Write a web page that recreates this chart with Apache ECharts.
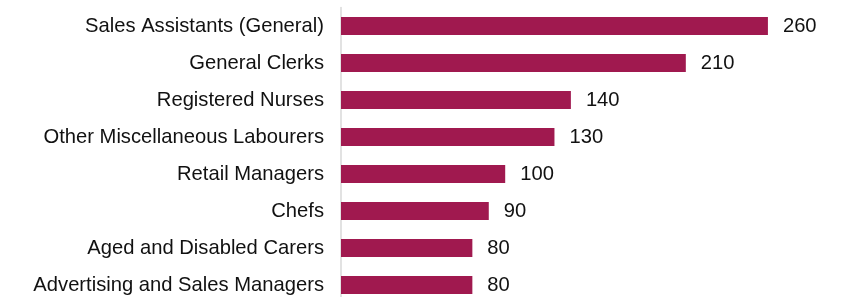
<!DOCTYPE html>
<html>
<head>
<meta charset="utf-8">
<script src="https://cdn.jsdelivr.net/npm/echarts@6/dist/echarts.min.js"></script>
<style>
html, body { margin: 0; padding: 0; background: #fff; overflow: hidden; }
#chart { width: 852px; height: 310px; }
</style>
</head>
<body>
<div id="chart"></div>
<script>
var categories = [
    'Sales Assistants (General)',
    'General Clerks',
    'Registered Nurses',
    'Other Miscellaneous Labourers',
    'Retail Managers',
    'Chefs',
    'Aged and Disabled Carers',
    'Advertising and Sales Managers'
];
var values = [260, 210, 140, 130, 100, 90, 80, 80];

var myChart = echarts.init(document.getElementById('chart'));
var option = {
    animation: false,
    grid: {
        left: 341,
        top: 7.5,
        width: 492.6,
        height: 296,
        containLabel: false
    },
    xAxis: {
        type: 'value',
        min: 0,
        max: 300,
        show: false
    },
    yAxis: {
        type: 'category',
        inverse: true,
        data: categories,
        axisLine: { show: true, lineStyle: { color: '#d9d9d9', width: 1.5 } },
        axisTick: { show: false },
        axisLabel: {
            color: '#111',
            fontFamily: 'Liberation Sans, Arial, sans-serif',
            fontSize: 20.2,
            margin: 17
        }
    },
    series: [{
        type: 'bar',
        data: values,
        barWidth: 18,
        itemStyle: { color: '#a0194f' },
        label: {
            show: true,
            position: 'right',
            distance: 15,
            color: '#111',
            fontFamily: 'Liberation Sans, Arial, sans-serif',
            fontSize: 20.2
        }
    }]
};
myChart.setOption(option);
</script>
</body>
</html>
